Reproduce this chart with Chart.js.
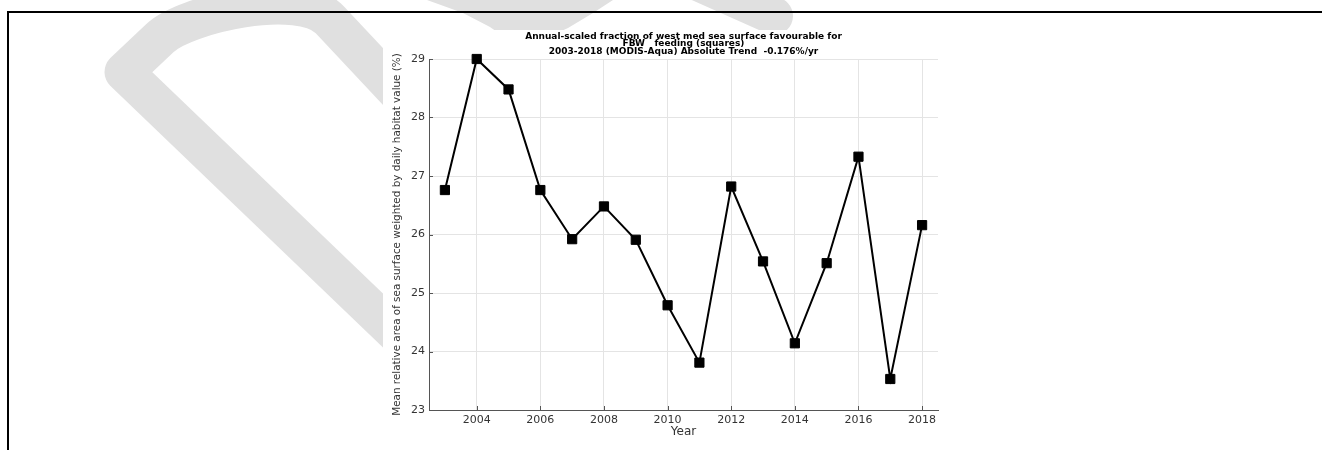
<!DOCTYPE html>
<html>
<head>
<meta charset="utf-8">
<script src="https://cdn.jsdelivr.net/npm/chart.js@4.4.1/dist/chart.umd.min.js"></script>
<style>
  html, body { margin: 0; padding: 0; background: #fff; }
  #wrap { width: 1322px; height: 450px; position: relative; }
  canvas { display: block; }
</style>
</head>
<body>
<div id="wrap"><canvas id="c" width="1322" height="450"></canvas></div>
<script>
// ---- data ----
const years = [2003, 2004, 2005, 2006, 2007, 2008, 2009, 2010, 2011, 2012, 2013, 2014, 2015, 2016, 2017, 2018];
const habitatValues = [26.76, 29.00, 28.48, 26.76, 25.92, 26.48, 25.91, 24.79, 23.81, 26.82, 25.54, 24.14, 25.51, 27.33, 23.53, 26.16];
const xTickValues = [2004, 2006, 2008, 2010, 2012, 2014, 2016, 2018];
const yTickValues = [23, 24, 25, 26, 27, 28, 29];
const titleLines = [
  'Annual-scaled fraction of west med sea surface favourable for',
  'FBW   feeding (squares)',
  '2003-2018 (MODIS-Aqua) Absolute Trend  -0.176%/yr'
];
const xTitle = 'Year';
const yTitle = 'Mean relative area of sea surface weighted by daily habitat value (%)';

// ---- background: watermark, frame, figure panel ----
const backgroundPlugin = {
  id: 'bg',
  beforeDraw(chart) {
    const ctx = chart.ctx;
    ctx.save();
    ctx.fillStyle = '#fff';
    ctx.fillRect(0, 0, chart.width, chart.height);
    // watermark
    ctx.strokeStyle = '#e0e0e0';
    ctx.fillStyle = '#e0e0e0';
    ctx.lineWidth = 39;
    ctx.lineJoin = 'round';
    ctx.lineCap = 'round';
    ctx.beginPath();
    ctx.moveTo(445, 380);
    ctx.lineTo(124, 72);
    ctx.lineTo(160, 38);
    ctx.bezierCurveTo(185, 14, 300, -12, 330, 20);
    ctx.lineTo(480, 180);
    ctx.stroke();
    ctx.beginPath();
    ctx.moveTo(427, 0); ctx.lineTo(613, 0); ctx.lineTo(593, 13); ctx.lineTo(568, 28);
    ctx.lineTo(555, 34); ctx.lineTo(500, 34); ctx.lineTo(490, 27); ctx.lineTo(463, 13);
    ctx.closePath();
    ctx.fill();
    ctx.lineWidth = 38;
    ctx.beginPath();
    ctx.moveTo(700, -17);
    ctx.lineTo(774, 16);
    ctx.stroke();
    // frame
    ctx.fillStyle = '#000';
    ctx.fillRect(7, 11, chart.width - 7, 2);
    ctx.fillRect(7, 11, 2, chart.height - 11);
    // figure panel
    ctx.fillStyle = '#fff';
    ctx.fillRect(383, 30, 620, 420);
    ctx.restore();
  }
};

// ---- inward tick marks + title ----
const decorPlugin = {
  id: 'decor',
  beforeDatasetsDraw(chart) {
    const {ctx, chartArea: a, scales: {x, y}} = chart;
    ctx.save();
    ctx.strokeStyle = '#555';
    ctx.lineWidth = 1;
    ctx.beginPath();
    xTickValues.forEach(v => {
      const px = Math.round(x.getPixelForValue(v)) + 0.5;
      ctx.moveTo(px, a.bottom); ctx.lineTo(px, a.bottom - 4);
    });
    yTickValues.forEach(v => {
      const py = Math.round(y.getPixelForValue(v)) + 0.5;
      ctx.moveTo(a.left, py); ctx.lineTo(a.left + 4, py);
    });
    ctx.stroke();
    ctx.restore();
  },
  afterDraw(chart) {
    const {ctx, chartArea: a} = chart;
    ctx.save();
    ctx.fillStyle = '#000';
    ctx.font = 'bold 9px "DejaVu Sans"';
    ctx.textAlign = 'center';
    ctx.textBaseline = 'middle';
    const cx = (a.left + a.right) / 2;
    const ys = [36.2, 44.0, 51.8];
    titleLines.forEach((t, i) => ctx.fillText(t, cx, ys[i]));
    ctx.restore();
  }
};

const points = years.map((yr, i) => ({x: yr, y: habitatValues[i]}));

new Chart(document.getElementById('c'), {
  type: 'line',
  data: {
    datasets: [{
      data: points,
      borderColor: '#000',
      backgroundColor: '#000',
      borderWidth: 2,
      pointStyle: 'rect',
      pointRadius: 6.5,
      pointBorderWidth: 1,
      pointBackgroundColor: '#000',
      pointBorderColor: '#000',
      tension: 0,
      clip: false
    }]
  },
  options: {
    responsive: false,
    animation: false,
    events: [],
    layout: { padding: { left: 383, right: 384, top: 59, bottom: 0 } },
    plugins: { legend: { display: false }, title: { display: false }, tooltip: { enabled: false } },
    scales: {
      x: {
        type: 'linear',
        min: 2002.5,
        max: 2018.5,
        afterBuildTicks: s => { s.ticks = xTickValues.map(v => ({value: v})); },
        afterFit: s => { s.height = 40; },
        ticks: {
          autoSkip: false,
          maxRotation: 0,
          padding: 3.5,
          color: '#333',
          font: { family: 'DejaVu Sans', size: 11 },
          callback: v => String(v)
        },
        grid: { color: '#e4e4e4', lineWidth: 1, drawTicks: false },
        border: { display: true, color: '#555', width: 1 },
        title: {
          display: true, text: xTitle, color: '#333',
          font: { family: 'DejaVu Sans', size: 12 },
          padding: { top: 0, bottom: 10.5 }
        }
      },
      y: {
        type: 'linear',
        min: 23,
        max: 29,
        afterBuildTicks: s => { s.ticks = yTickValues.map(v => ({value: v})); },
        afterFit: s => { s.width = 46; },
        ticks: {
          padding: 4,
          color: '#333',
          font: { family: 'DejaVu Sans', size: 11 },
          callback: v => String(v)
        },
        grid: { color: '#e4e4e4', lineWidth: 1, drawTicks: false },
        border: { display: true, color: '#555', width: 1 },
        title: {
          display: true, text: yTitle, color: '#333',
          font: { family: 'DejaVu Sans', size: 10.4 },
          padding: { top: 8.5, bottom: 0 }
        }
      }
    }
  },
  plugins: [backgroundPlugin, decorPlugin]
});
</script>
</body>
</html>
